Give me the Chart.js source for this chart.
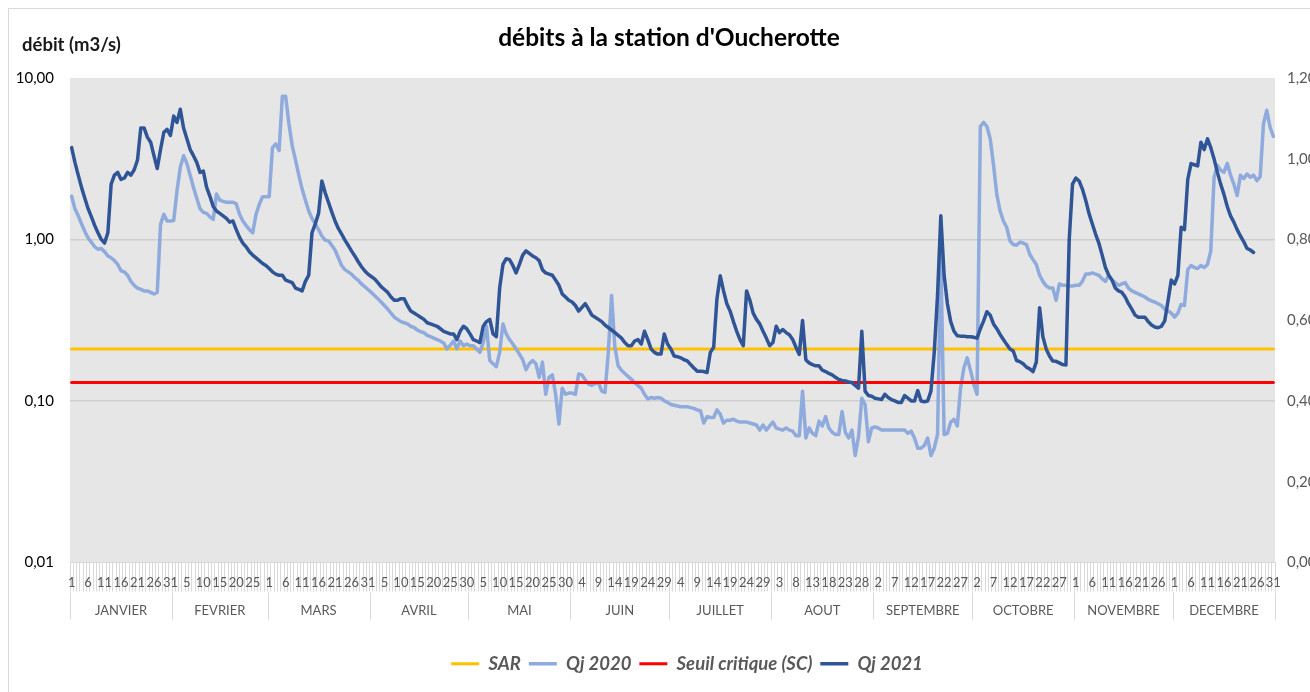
<!DOCTYPE html>
<html lang="fr">
<head>
<meta charset="utf-8">
<title>débits à la station d'Oucherotte</title>
<script src="https://cdn.jsdelivr.net/npm/chart.js@4.4.1/dist/chart.umd.min.js"></script>
<style>
  html, body { margin: 0; padding: 0; background: #fff; overflow: hidden; }
  #wrap { width: 1310px; height: 692px; }
</style>
</head>
<body>
<div id="wrap"><canvas id="debitChart" width="1310" height="692"></canvas></div>
<script>
const monthNames = ['JANVIER', 'FEVRIER', 'MARS', 'AVRIL', 'MAI', 'JUIN', 'JUILLET', 'AOUT', 'SEPTEMBRE', 'OCTOBRE', 'NOVEMBRE', 'DECEMBRE'];
const monthDays = [31, 29, 31, 30, 31, 30, 31, 31, 30, 31, 30, 31];
const leftTicks = [0.01, 0.1, 1, 10];

// seuils (m3/s)
const sarLevel = 0.21;
const seuilCritique = 0.13;

// débits journaliers 2020 (m3/s), un mois par ligne
const qj2020 = [
  1.85,1.55,1.4,1.25,1.12,1.02,0.96,0.9,0.87,0.88,0.84,0.79,0.77,0.74,0.7,0.64,0.63,0.6,0.55,0.52,0.5,0.49,0.48,0.48,0.47,0.46,0.47,1.24,1.43,1.3,1.3,
  1.31,2.0,2.8,3.3,2.95,2.5,2.1,1.8,1.55,1.47,1.45,1.38,1.33,1.91,1.75,1.72,1.7,1.7,1.7,1.66,1.43,1.3,1.22,1.15,1.1,1.43,1.65,1.84,1.84,
  1.84,3.7,3.9,3.55,7.7,7.7,5.2,3.8,3.1,2.5,2.05,1.75,1.5,1.35,1.25,1.15,1.05,0.99,0.98,0.92,0.86,0.77,0.69,0.65,0.63,0.61,0.58,0.56,0.53,0.51,0.49,
  0.47,0.45,0.43,0.41,0.39,0.37,0.35,0.33,0.32,0.31,0.305,0.3,0.29,0.285,0.275,0.268,0.265,0.255,0.25,0.245,0.24,0.235,0.228,0.21,0.222,0.235,0.21,0.235,0.22,0.225,
  0.22,0.22,0.21,0.2,0.23,0.29,0.178,0.17,0.163,0.2,0.3,0.26,0.24,0.225,0.21,0.195,0.18,0.156,0.17,0.178,0.17,0.14,0.174,0.11,0.14,0.145,0.11,0.072,0.12,0.11,0.112,
  0.112,0.11,0.147,0.145,0.135,0.127,0.125,0.128,0.13,0.115,0.113,0.2,0.45,0.215,0.165,0.155,0.148,0.142,0.136,0.13,0.125,0.12,0.11,0.103,0.105,0.104,0.105,0.104,0.1,0.098,
  0.095,0.094,0.093,0.092,0.092,0.092,0.091,0.09,0.088,0.087,0.073,0.08,0.079,0.079,0.088,0.083,0.073,0.076,0.076,0.077,0.075,0.074,0.074,0.074,0.073,0.072,0.071,0.066,0.071,0.066,0.07,
  0.074,0.068,0.067,0.066,0.068,0.066,0.065,0.061,0.061,0.115,0.059,0.068,0.063,0.061,0.075,0.07,0.08,0.068,0.064,0.062,0.062,0.086,0.064,0.059,0.066,0.046,0.06,0.104,0.095,0.056,0.068,
  0.069,0.068,0.066,0.066,0.066,0.066,0.066,0.066,0.066,0.066,0.063,0.065,0.059,0.051,0.051,0.053,0.059,0.046,0.051,0.062,0.8,0.062,0.063,0.074,0.077,0.07,0.12,0.16,0.185,0.155,
  0.127,0.11,5.0,5.3,5.0,4.2,2.9,1.9,1.5,1.3,1.19,0.98,0.93,0.92,0.96,0.95,0.93,0.81,0.75,0.7,0.6,0.55,0.516,0.5,0.5,0.42,0.53,0.52,0.52,0.515,0.515,
  0.52,0.52,0.55,0.61,0.61,0.62,0.61,0.6,0.57,0.55,0.6,0.56,0.54,0.52,0.53,0.54,0.5,0.48,0.47,0.46,0.45,0.44,0.425,0.416,0.41,0.4,0.39,0.37,0.36,0.35,
  0.33,0.35,0.396,0.39,0.65,0.69,0.67,0.66,0.69,0.67,0.7,0.85,2.43,2.87,2.68,2.6,2.96,2.5,2.2,1.87,2.5,2.38,2.54,2.43,2.5,2.31,2.45,5.2,6.3,4.95,4.35
];

// débits journaliers 2021 (m3/s), jusqu'au 25 décembre
const qj2021 = [
  3.7,3.0,2.5,2.1,1.8,1.55,1.38,1.22,1.1,1.0,0.95,1.1,2.2,2.5,2.6,2.35,2.4,2.6,2.5,2.7,3.1,4.9,4.9,4.3,4.0,3.3,2.75,3.6,4.6,4.8,4.4,
  5.8,5.3,6.4,4.9,4.2,3.6,3.3,3.0,2.6,2.65,2.1,1.85,1.6,1.5,1.45,1.4,1.35,1.28,1.3,1.15,1.03,0.95,0.9,0.84,0.8,0.77,0.74,0.71,0.69,
  0.66,0.63,0.61,0.6,0.6,0.56,0.55,0.54,0.5,0.49,0.48,0.55,0.6,1.1,1.25,1.45,2.3,1.95,1.7,1.48,1.3,1.17,1.08,0.99,0.92,0.85,0.79,0.73,0.68,0.64,0.61,
  0.59,0.57,0.54,0.51,0.49,0.47,0.44,0.42,0.42,0.43,0.43,0.39,0.36,0.35,0.34,0.33,0.32,0.305,0.3,0.295,0.29,0.28,0.27,0.265,0.26,0.26,0.24,0.27,0.29,0.28,
  0.26,0.24,0.235,0.23,0.29,0.31,0.32,0.26,0.25,0.5,0.7,0.76,0.75,0.69,0.62,0.7,0.8,0.85,0.82,0.79,0.77,0.74,0.65,0.62,0.61,0.6,0.56,0.52,0.46,0.44,0.42,
  0.41,0.39,0.36,0.38,0.4,0.37,0.34,0.33,0.32,0.31,0.295,0.285,0.275,0.265,0.255,0.245,0.23,0.22,0.22,0.235,0.24,0.225,0.27,0.24,0.21,0.2,0.195,0.195,0.26,0.225,
  0.21,0.19,0.188,0.185,0.18,0.177,0.168,0.16,0.153,0.153,0.152,0.15,0.2,0.215,0.43,0.595,0.48,0.4,0.36,0.31,0.27,0.24,0.22,0.48,0.42,0.35,0.32,0.3,0.27,0.245,0.22,
  0.23,0.29,0.265,0.277,0.265,0.257,0.24,0.215,0.194,0.315,0.18,0.172,0.168,0.165,0.165,0.155,0.152,0.148,0.145,0.14,0.136,0.134,0.133,0.131,0.13,0.125,0.12,0.27,0.115,0.108,0.107,
  0.104,0.103,0.102,0.11,0.105,0.102,0.1,0.098,0.098,0.108,0.104,0.1,0.1,0.116,0.1,0.099,0.1,0.115,0.2,0.45,1.4,0.6,0.4,0.31,0.27,0.253,0.252,0.252,0.25,0.25,
  0.248,0.245,0.28,0.313,0.357,0.34,0.3,0.28,0.258,0.24,0.224,0.21,0.204,0.178,0.175,0.17,0.162,0.158,0.152,0.174,0.378,0.25,0.21,0.19,0.177,0.176,0.172,0.168,0.167,1.0,2.2,
  2.4,2.3,2.05,1.75,1.45,1.25,1.08,0.95,0.8,0.67,0.6,0.56,0.5,0.48,0.47,0.44,0.4,0.37,0.34,0.33,0.33,0.33,0.31,0.295,0.287,0.284,0.29,0.313,0.416,0.56,
  0.53,0.6,1.19,1.15,2.35,2.95,2.9,2.85,4.0,3.6,4.2,3.7,3.15,2.6,2.2,1.9,1.6,1.4,1.28,1.15,1.05,0.97,0.88,0.86,0.83
];

// one category per day of the (leap) year, labelled by day of month
const days = [];
monthDays.forEach(n => {
    for (let d = 1; d <= n; d++) days.push(String(d));
});

const fmtComma = v => Number(v).toFixed(2).replace('.', ',');

Chart.defaults.font.family = 'Lato';

// plot background, outer frame, month row and the axis caption
const decorPlugin = {
    id: 'decor',
    afterLayout(chart) {
        // title and legend sit a little right of centre in the original
        chart.titleBlock.left += 10;
        chart.titleBlock.right += 10;
        chart.legend.left += 28;
        chart.legend.right += 28;
    },
    beforeDraw(chart) {
        const { ctx, chartArea: a } = chart;
        ctx.save();
        ctx.fillStyle = '#ffffff';
        ctx.fillRect(0, 0, chart.width, chart.height);
        ctx.strokeStyle = '#d9d9d9';
        ctx.lineWidth = 1;
        ctx.strokeRect(8.5, 8.5, chart.width + 20, chart.height + 20);
        ctx.fillStyle = '#e6e6e6';
        ctx.fillRect(a.left, a.top, a.right - a.left, a.bottom - a.top);
        ctx.restore();
    },
    afterDraw(chart) {
        const { ctx, chartArea: a } = chart;
        const xs = chart.scales.x;
        const step = (a.right - a.left) / days.length;
        ctx.save();
        ctx.strokeStyle = '#d9d9d9';
        ctx.lineWidth = 1;
        ctx.fillStyle = '#595959';
        ctx.font = '13px Lato';
        ctx.textAlign = 'center';
        ctx.textBaseline = 'middle';
        let start = 0;
        monthDays.forEach((n, i) => {
            const x0 = xs.getPixelForValue(start) - step / 2;
            const x1 = x0 + n * step;
            ctx.beginPath();
            ctx.moveTo(Math.round(x0) + 0.5, a.bottom + 30);
            ctx.lineTo(Math.round(x0) + 0.5, a.bottom + 57);
            ctx.stroke();
            ctx.fillText(monthNames[i], (x0 + x1) / 2, a.bottom + 48);
            start += n;
        });
        ctx.beginPath();
        ctx.moveTo(Math.round(a.right) + 0.5, a.bottom + 30);
        ctx.lineTo(Math.round(a.right) + 0.5, a.bottom + 57);
        ctx.stroke();

        ctx.fillStyle = '#1a1a1a';
        ctx.font = 'bold 18.5px Lato';
        ctx.textAlign = 'left';
        ctx.fillText('débit (m3/s)', 22, 45);
        ctx.restore();
    }
};

new Chart(document.getElementById('debitChart'), {
    type: 'line',
    data: {
        labels: days,
        datasets: [
            {
                label: 'SAR',
                data: days.map(() => sarLevel),
                borderColor: '#FFC000',
                backgroundColor: '#FFC000',
                borderWidth: 3,
                order: 4
            },
            {
                label: 'Qj 2020',
                data: qj2020,
                borderColor: '#8FAADC',
                backgroundColor: '#8FAADC',
                borderWidth: 3.5,
                order: 3
            },
            {
                label: 'Seuil critique (SC)',
                data: days.map(() => seuilCritique),
                borderColor: '#FF0000',
                backgroundColor: '#FF0000',
                borderWidth: 3,
                order: 2
            },
            {
                label: 'Qj 2021',
                data: qj2021,
                borderColor: '#2F5597',
                backgroundColor: '#2F5597',
                borderWidth: 3.5,
                order: 1
            }
        ]
    },
    options: {
        responsive: false,
        animation: false,
        devicePixelRatio: 1,
        layout: { padding: { left: 8, right: 0, top: 8, bottom: 9 } },
        elements: {
            point: { radius: 0, hoverRadius: 0 },
            line: { tension: 0, borderJoinStyle: 'round', borderCapStyle: 'round' }
        },
        plugins: {
            title: {
                display: true,
                text: "débits à la station d'Oucherotte",
                color: '#000',
                font: { family: 'Lato', size: 24.5, weight: 'bold' },
                padding: { top: 15, bottom: 25.5 }
            },
            legend: {
                position: 'bottom',
                labels: {
                    usePointStyle: true,
                    pointStyle: 'line',
                    pointStyleWidth: 28,
                    color: '#595959',
                    font: { family: 'Lato', size: 18.5, weight: 'bold', style: 'italic' },
                    padding: 8,
                    sort: (a, b) => a.datasetIndex - b.datasetIndex
                }
            },
            tooltip: { enabled: false }
        },
        scales: {
            x: {
                offset: true,
                grid: { offset: true, drawOnChartArea: false, drawTicks: true, tickLength: 29, color: '#d9d9d9' },
                border: { display: true, color: '#d9d9d9' },
                ticks: {
                    autoSkip: false,
                    maxRotation: 0,
                    minRotation: 0,
                    padding: -16,
                    color: '#595959',
                    font: { family: 'Lato', size: 13 },
                    callback: (v, i) => (i % 5 === 0 ? days[i] : '')
                },
                afterFit: s => { s.height = 84; }
            },
            y: {
                type: 'logarithmic',
                position: 'left',
                min: 0.01,
                max: 10,
                afterBuildTicks: s => { s.ticks = leftTicks.map(v => ({ value: v })); },
                ticks: {
                    color: '#000',
                    font: { family: 'Lato', size: 15 },
                    padding: 16,
                    callback: v => fmtComma(v)
                },
                grid: {
                    drawTicks: false,
                    lineWidth: 1.5,
                    color: c => (c.tick && (c.tick.value === 1 || c.tick.value === 0.1)) ? '#cfcfcf' : 'rgba(0,0,0,0)'
                },
                border: { display: false },
                afterFit: s => { s.width = 62; }
            },
            y1: {
                type: 'linear',
                position: 'right',
                display: true,
                min: 0,
                max: 1.2,
                ticks: {
                    stepSize: 0.2,
                    color: '#595959',
                    font: { family: 'Lato', size: 15 },
                    padding: 12,
                    callback: v => fmtComma(v)
                },
                grid: { drawOnChartArea: false, drawTicks: false },
                border: { display: false },
                afterFit: s => { s.width = 35; }
            }
        }
    },
    plugins: [decorPlugin]
});
</script>
</body>
</html>
